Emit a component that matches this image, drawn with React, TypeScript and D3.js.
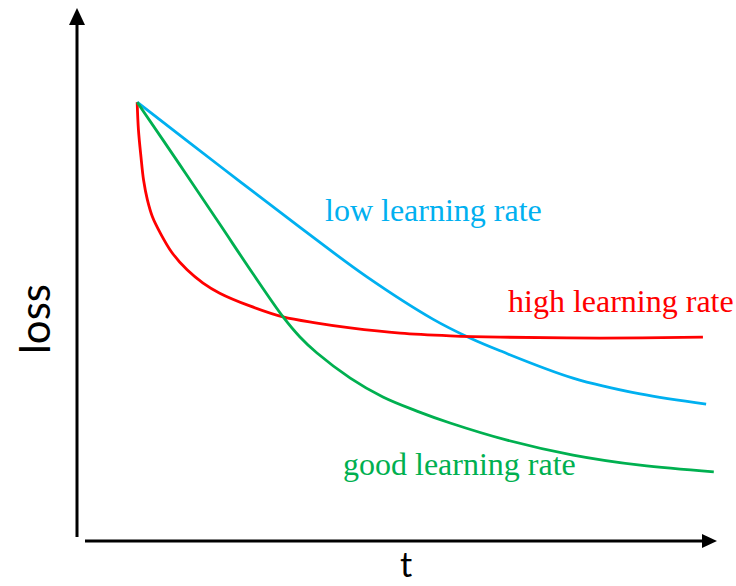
import * as d3 from 'd3';
import React, { useEffect, useRef } from 'react';

// loss curves (t: 0-100, loss: 0-100)
const lowT = [9.4, 22.3, 34.8, 45.3, 55.6, 61.4, 66.1, 77.5, 88.0, 98.3];
const lowLoss = [99.5, 85.0, 71.1, 59.8, 50.2, 45.9, 43.0, 36.8, 33.2, 30.9];

const highT = [9.4, 9.6, 10.0, 10.4, 11.0, 11.8, 13.0, 14.8, 17.2, 19.7, 22.3, 27.0, 32.2, 37.5, 42.7, 50.5, 58.3, 66.1, 81.7, 97.8];
const highLoss = [99.5, 93.2, 87.0, 81.8, 77.3, 73.4, 69.8, 65.4, 61.4, 58.4, 56.1, 53.2, 50.7, 49.3, 48.2, 47.0, 46.4, 46.1, 45.9, 46.1];

const goodT = [9.4, 16.1, 22.3, 27.5, 32.2, 34.8, 37.5, 42.7, 47.8, 53.1, 58.3, 67.2, 77.5, 88.0, 99.5];
const goodLoss = [99.5, 85.2, 71.8, 60.5, 50.7, 46.2, 42.5, 36.8, 32.5, 29.3, 26.6, 22.7, 19.3, 17.0, 15.5];

const seriesNames = ['low learning rate', 'high learning rate', 'good learning rate'];
const seriesColors = ['#00B0F0', '#FF0000', '#00B050'];

const width = 736;
const height = 586;

export default function App() {
  const svgRef = useRef<SVGSVGElement>(null);

  useEffect(() => {
    if (!svgRef.current) return;
    const svg = d3.select(svgRef.current);
    svg.selectAll('*').remove();

    const x = d3.scaleLinear().domain([0, 100]).range([77, 717]);
    const y = d3.scaleLinear().domain([0, 100]).range([540, 100]);

    // axes with arrow heads
    svg.append('line')
      .attr('x1', 77).attr('y1', 537)
      .attr('x2', 77).attr('y2', 20)
      .attr('stroke', '#000').attr('stroke-width', 3);
    svg.append('path')
      .attr('d', 'M77,8 L85,25 L69,25 Z')
      .attr('fill', '#000');

    svg.append('line')
      .attr('x1', 85).attr('y1', 541)
      .attr('x2', 706).attr('y2', 541)
      .attr('stroke', '#000').attr('stroke-width', 3);
    svg.append('path')
      .attr('d', 'M717,541 L702,534 L702,548 Z')
      .attr('fill', '#000');

    const series = [
      { t: lowT, loss: lowLoss },
      { t: highT, loss: highLoss },
      { t: goodT, loss: goodLoss },
    ];

    // centripetal catmull-rom copes with the near vertical start of the red curve
    const line = d3.line<[number, number]>()
      .x(d => x(d[0]))
      .y(d => y(d[1]))
      .curve(d3.curveCatmullRom.alpha(0.5));

    series.forEach((s, i) => {
      const pts = s.t.map((t, j) => [t, s.loss[j]] as [number, number]);
      svg.append('path')
        .datum(pts)
        .attr('d', line)
        .attr('fill', 'none')
        .attr('stroke', seriesColors[i])
        .attr('stroke-width', 2.8)
        .attr('stroke-linejoin', 'round');
    });

    // curve labels
    const labelPos = [
      [325, 221],
      [508, 312],
      [343, 475],
    ];
    seriesNames.forEach((name, i) => {
      svg.append('text')
        .attr('x', labelPos[i][0])
        .attr('y', labelPos[i][1])
        .attr('fill', seriesColors[i])
        .style('font-family', '"Liberation Serif", "Times New Roman", serif')
        .style('font-size', '32px')
        .text(name);
    });

    // axis titles
    svg.append('text')
      .attr('transform', 'translate(50,319) rotate(-90)')
      .attr('text-anchor', 'middle')
      .style('font-family', 'Lato, "Open Sans", sans-serif')
      .style('font-size', '42px')
      .text('loss');

    svg.append('text')
      .attr('x', 406)
      .attr('y', 577)
      .attr('text-anchor', 'middle')
      .style('font-family', 'Lato, "Open Sans", sans-serif')
      .style('font-size', '34px')
      .text('t');
  }, []);

  return (
    <svg
      ref={svgRef}
      width={width}
      height={height}
      style={{ position: 'absolute', left: 0, top: 0, background: '#fff' }}
    />
  );
}
